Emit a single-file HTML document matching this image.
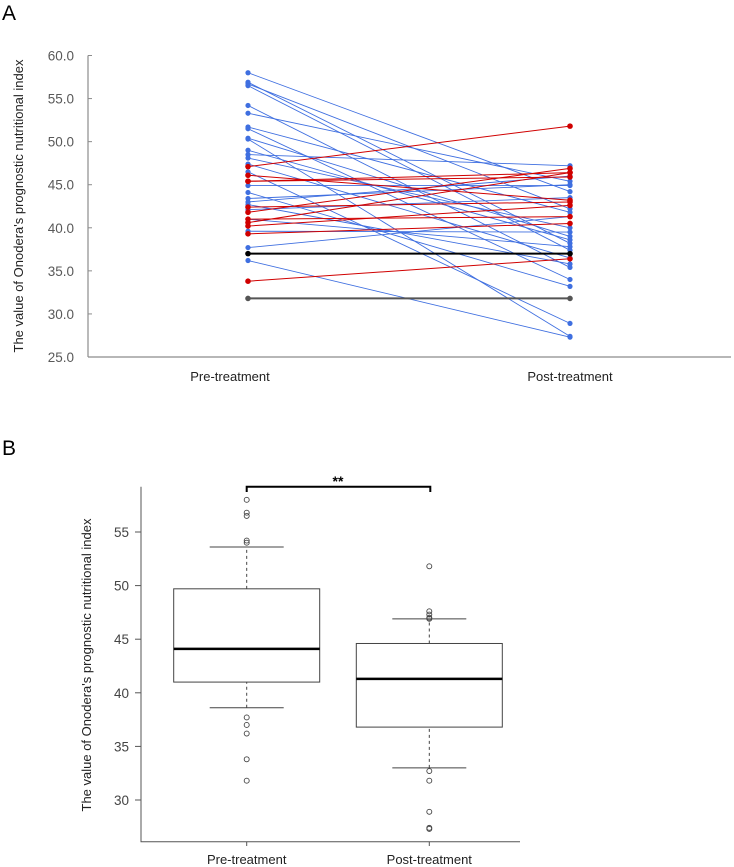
<!DOCTYPE html>
<html><head><meta charset="utf-8"><style>
body{margin:0;background:#fff;font-family:"Liberation Sans",Arial,sans-serif}
svg{display:block}
</style></head><body>
<svg id="chart" width="734" height="867" viewBox="0 0 734 867" xmlns="http://www.w3.org/2000/svg" font-family="Liberation Sans, Arial, sans-serif">
<text x="2" y="20" font-size="21">A</text>
<text x="2" y="455" font-size="21">B</text>
<g id="pa"></g>
<g id="pb"></g>
</svg>
<script>
const groups = ["Pre-treatment","Post-treatment"];
const aTicks = [25,30,35,40,45,50,55,60];
const redPre  = [47.1,46.1,45.4,45.4,41.8,41.0,40.6,40.2,39.3,33.8,42.4];
const redPost = [51.8,43.2,46.4,45.9,46.9,41.3,46.4,42.6,40.5,36.4,43.0];
const bluePre  = [58.0,56.9,56.7,56.5,54.2,53.3,51.7,51.5,50.4,50.3,49.0,48.5,48.1,47.4,46.5,44.9,44.1,43.4,43.0,42.7,42.1,41.0,39.6,37.7,36.2];
const bluePost = [44.2,38.2,42.2,37.4,35.4,45.4,41.8,34.0,39.0,27.4,38.6,47.2,40.0,36.5,28.9,44.9,33.2,45.0,46.0,35.8,43.5,37.8,39.5,41.3,27.3];
const blackPre = [37.0], blackPost = [37.0];
const greyPre = [31.8], greyPost = [31.8];

const bTicks = [30,35,40,45,50,55];
const boxStats = [[38.6,41.0,44.1,49.7,53.6],[33.0,36.8,41.3,44.6,46.9]];
const outliersPre = [58.0,56.8,56.5,54.2,54.0,37.7,37.0,36.2,33.8,31.8];
const outliersPost = [51.8,47.6,47.3,47.0,46.9,32.7,31.8,28.9,27.4,27.3];

const NS="http://www.w3.org/2000/svg";
function mk(p,t,a){const e=document.createElementNS(NS,t);for(const k in a)e.setAttribute(k,a[k]);p.appendChild(e);return e;}
// Panel A
const pa=document.getElementById('pa');
const yA=v=>357-(v-25)*(357-55.5)/35;
const xA=[248,570];
let e=mk(pa,'line',{x1:88,y1:55.5,x2:88,y2:357,stroke:'#8c8c8c','stroke-width':1.2});

e=mk(pa,'line',{x1:88,y1:357,x2:731,y2:357,stroke:'#8c8c8c','stroke-width':1.2});

aTicks.forEach(t=>{
 mk(pa,'line',{x1:88,y1:yA(t),x2:92,y2:yA(t),stroke:'#8c8c8c'});
 e=mk(pa,'text',{x:74,y:yA(t)+5,'text-anchor':'end','font-size':13.5,fill:'#595959'});e.textContent=t.toFixed(1);
 
});
e=mk(pa,'text',{x:0,y:0,'font-size':13,fill:'#222','text-anchor':'middle',transform:'translate(23,206) rotate(-90)'});
e.textContent="The value of Onodera's prognostic nutritional index";

[[230,groups[0]],[570,groups[1]]].forEach(([x,s])=>{e=mk(pa,'text',{x:x,y:381,'text-anchor':'middle','font-size':13,fill:'#222'});e.textContent=s;
 });
function series(pre,post,col,w,r,name){
 pre.forEach((v,i)=>{
  const g=mk(pa,'g',{});
  
  mk(g,'line',{x1:xA[0],y1:yA(v),x2:xA[1],y2:yA(post[i]),stroke:col,'stroke-width':w});
  mk(g,'circle',{cx:xA[0],cy:yA(v),r:r,fill:col});
  mk(g,'circle',{cx:xA[1],cy:yA(post[i]),r:r,fill:col});
 });
}
series(bluePre,bluePost,'#3f6fe0',0.9,2.6,'blue-patient-line');
series(redPre,redPost,'#d00000',1,2.8,'red-patient-line');
series(blackPre,blackPost,'#000',2,2.8,'black-patient-line');
series(greyPre,greyPost,'#555',2,2.8,'grey-patient-line');
// Panel B
const pb=document.getElementById('pb');
const yB=v=>800-(v-30)*(800-532)/25;
const xB=[246.7,429.3];
e=mk(pb,'polyline',{points:'141,486.7 141,841.7 520,841.7',fill:'none',stroke:'#555','stroke-width':1});

bTicks.forEach(t=>{
 mk(pb,'line',{x1:135,y1:yB(t),x2:141,y2:yB(t),stroke:'#555'});
 e=mk(pb,'text',{x:129,y:yB(t)+5,'text-anchor':'end','font-size':13.5,fill:'#444'});e.textContent=t;
 
});
e=mk(pb,'text',{x:0,y:0,'font-size':13,fill:'#222','text-anchor':'middle',transform:'translate(91,665) rotate(-90)'});
e.textContent="The value of Onodera's prognostic nutritional index";

groups.forEach((s,i)=>{mk(pb,'line',{x1:xB[i],y1:841.7,x2:xB[i],y2:846,stroke:'#555'});
 e=mk(pb,'text',{x:xB[i],y:864,'text-anchor':'middle','font-size':13,fill:'#222'});e.textContent=s;
 });
boxStats.forEach((s,i)=>{
 const x=xB[i],g=mk(pb,'g',{});
 
 mk(g,'line',{x1:x,y1:yB(s[0]),x2:x,y2:yB(s[1]),stroke:'#444','stroke-dasharray':'3,3'});
 mk(g,'line',{x1:x,y1:yB(s[3]),x2:x,y2:yB(s[4]),stroke:'#444','stroke-dasharray':'3,3'});
 mk(g,'line',{x1:x-37,y1:yB(s[0]),x2:x+37,y2:yB(s[0]),stroke:'#444'});
 mk(g,'line',{x1:x-37,y1:yB(s[4]),x2:x+37,y2:yB(s[4]),stroke:'#444'});
 mk(g,'rect',{x:x-73,y:yB(s[3]),width:146,height:yB(s[1])-yB(s[3]),fill:'#fff',stroke:'#444'});
 mk(g,'line',{x1:x-73,y1:yB(s[2]),x2:x+73,y2:yB(s[2]),stroke:'#000','stroke-width':2.5});
});
[outliersPre,outliersPost].forEach((arr,i)=>arr.forEach(v=>{
 e=mk(pb,'circle',{cx:xB[i],cy:yB(v),r:2.5,fill:'none',stroke:'#444','stroke-width':0.9});
 
}));
e=mk(pb,'polyline',{points:`${xB[0]},492 ${xB[0]},486.7 ${xB[1]+1},486.7 ${xB[1]+1},492`,fill:'none',stroke:'#000','stroke-width':2});

e=mk(pb,'text',{x:338,y:486,'text-anchor':'middle','font-size':14,'font-weight':'bold'});e.textContent='**';

</script>
</body></html>
